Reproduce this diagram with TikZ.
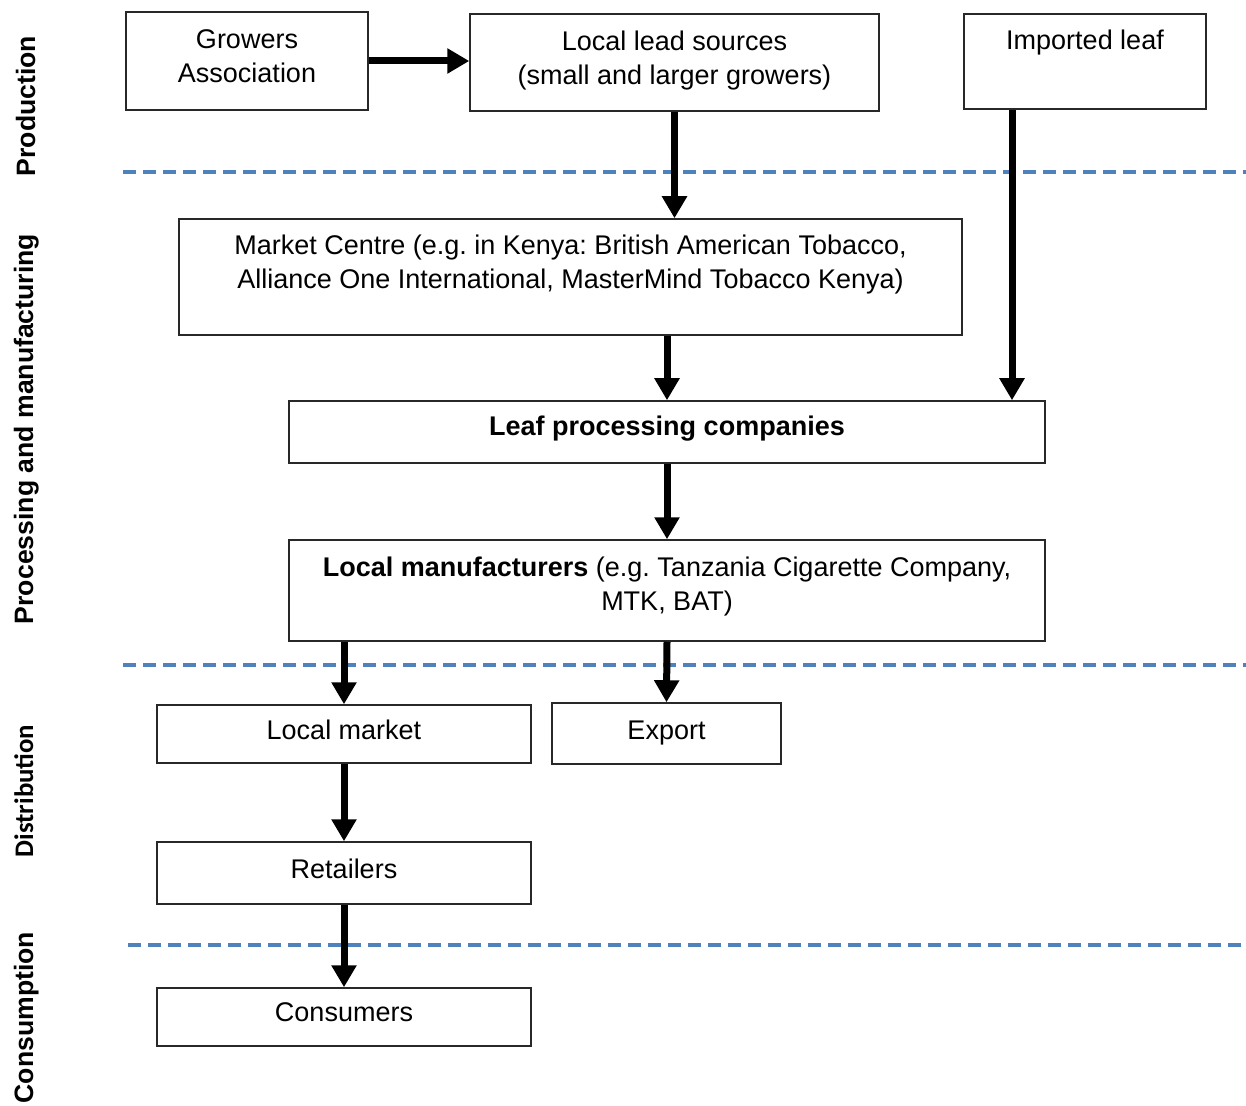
\documentclass[tikz,border=0pt]{standalone}
\usepackage{fontspec}
\setmainfont{Liberation Sans}
\newfontfamily\calibri{Carlito}
\usetikzlibrary{arrows.meta}
\definecolor{dashblue}{RGB}{79,129,189}
\definecolor{boxline}{RGB}{40,40,40}
\frenchspacing

\begin{document}
\begin{tikzpicture}[line join=miter,x=0.5pt,y=-0.5pt,
	box/.style={draw=boxline,line width=0.75pt,inner sep=2pt,align=center,text depth=4.5pt,font=\fontsize{13.5}{17}\selectfont},
	flow/.style={-{Triangle[width=12pt,length=11pt]},line width=3.5pt},
	stage/.style={rotate=90,anchor=base,font=\fontsize{13.3}{16}\selectfont\bfseries},
	sep/.style={color=dashblue,line width=2pt,dash pattern=on 6.5pt off 3.5pt}]
	\useasboundingbox (0,0) rectangle (1246,1106);
	% stages
	\node[stage] (prod) at (35,106) {Production};
	\node[stage] (proc) at (33,429) {Processing and manufacturing};
	\node[stage,font=\fontsize{13.4}{16}\selectfont\calibri\bfseries] (dist) at (33,791) {Distribution};
	\node[stage] (cons) at (33,1017.5) {Consumption};
	% separators
	\draw[sep] (123,172) -- (1246,172);
	\draw[sep] (123,665) -- (1246,665);
	\draw[sep] (128,945) -- (1246,945);
	% production
	\node[box,minimum width=121pt,minimum height=49pt] (grow) at (247,61) {Growers\\Association};
	\node[box,minimum width=204.5pt,minimum height=48.5pt] (lead) at (674.5,62.5) {Local lead sources\\(small and larger growers)};
	\node[box,minimum width=121pt,minimum height=47.5pt,text depth=21.5pt] (imp) at (1085,61.5) {Imported leaf};
	% processing and manufacturing
	\node[box,minimum width=391.5pt,minimum height=58pt,text depth=15pt] (mkt) at (570.5,277) {Market Centre (e.g. in Kenya: British American Tobacco,\\Alliance One International, MasterMind Tobacco Kenya)};
	\node[box,minimum width=378pt,minimum height=31pt,text depth=6pt] (leaf) at (667,432) {\bfseries Leaf processing companies};
	\node[box,minimum width=378pt,minimum height=50.5pt,text depth=7pt] (manu) at (667,590.5) {\textbf{Local manufacturers} (e.g. Tanzania Cigarette Company,\\MTK, BAT)};
	% distribution
	\node[box,minimum width=187pt,minimum height=29pt] (locm) at (344,734) {Local market};
	\node[box,minimum width=114.5pt,minimum height=30.5pt,text depth=3pt] (exp) at (666.5,733.5) {Export};
	\node[box,minimum width=187pt,minimum height=31pt] (ret) at (344,873) {Retailers};
	% consumption
	\node[box,minimum width=187pt,minimum height=29pt] (con) at (344,1017) {Consumers};
	% flows
	\draw[flow] (grow.east) -- (grow.east -| lead.west);
	\draw[flow] (lead.south) -- (lead.south |- mkt.north);
	\draw[flow] ([xshift=-36.5pt]imp.south) -- ([xshift=-36.5pt]imp.south |- leaf.north);
	\draw[flow] (mkt.south -| leaf.north) -- (leaf.north);
	\draw[flow] (leaf.south) -- (manu.north);
	\draw[flow] (manu.south -| locm.north) -- (locm.north);
	\draw[flow] (manu.south) -- (exp.north);
	\draw[flow] (locm.south) -- (ret.north);
	\draw[flow] (ret.south) -- (con.north);
\end{tikzpicture}
\end{document}
